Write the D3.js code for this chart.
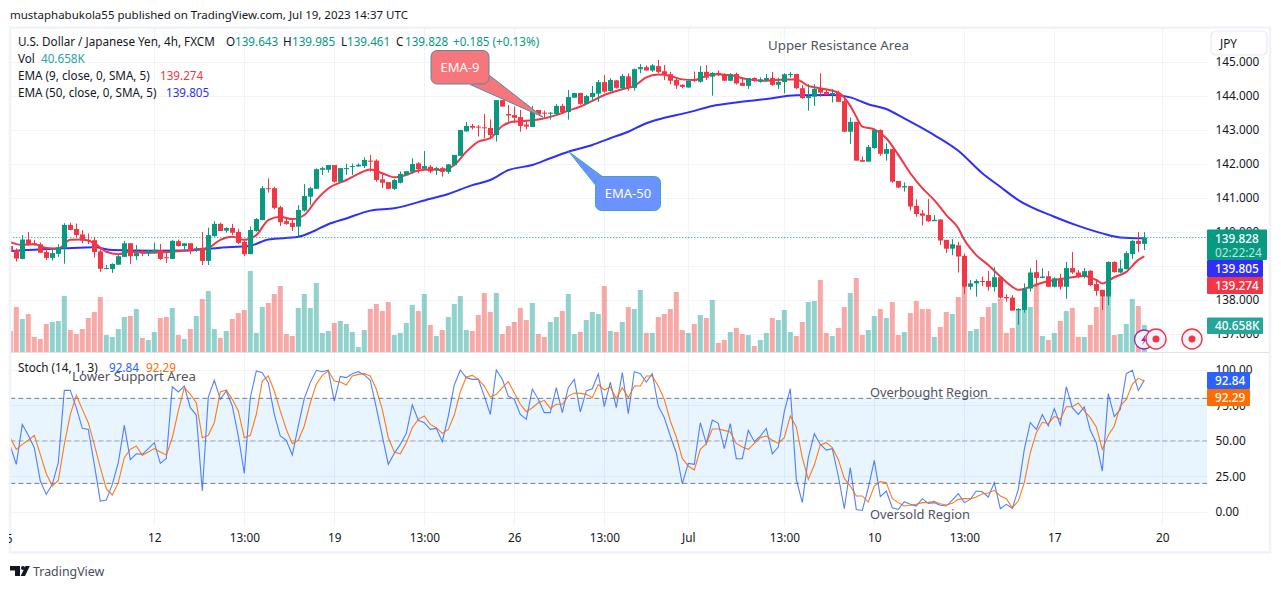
<!DOCTYPE html>
<html>
<head>
<meta charset="utf-8">
<script src="https://cdnjs.cloudflare.com/ajax/libs/d3/7.8.5/d3.min.js"></script>
<style>
  html, body { margin: 0; padding: 0; background: #fff; }
  svg { display: block; }
  text { font-family: "Noto Sans", sans-serif; }
</style>
</head>
<body>
<div id="chart"></div>
<script>
// USD/JPY 4h candles
const opens = [139.58,139.46,139.20,139.77,139.66,139.63,139.40,139.23,139.35,139.51,140.20,140.08,139.92,139.76,139.75,139.42,138.90,138.90,139.03,139.26,139.66,139.28,139.43,139.36,139.40,139.46,139.25,139.20,139.72,139.58,139.66,139.48,139.51,139.14,139.87,140.23,140.03,140.11,139.99,139.70,139.34,140.02,140.34,141.28,141.28,140.72,140.31,140.26,140.15,140.62,141.03,141.26,141.82,141.82,141.96,141.47,141.84,141.90,141.92,141.93,142.09,142.09,141.54,141.46,141.26,141.44,141.66,141.76,142.01,141.85,141.91,141.83,141.87,141.76,141.96,142.23,142.95,143.11,143.09,143.07,143.05,142.84,143.87,143.46,143.43,143.37,143.15,143.08,143.58,143.50,143.47,143.46,143.70,143.52,143.94,144.08,143.76,143.96,144.06,144.40,144.14,144.45,144.22,144.57,144.23,144.78,144.84,144.74,144.87,144.72,144.63,144.46,144.32,144.24,144.46,144.41,144.70,144.56,144.67,144.63,144.44,144.64,144.38,144.29,144.52,144.41,144.45,144.52,144.32,144.40,144.61,144.64,144.22,143.93,143.97,144.20,144.11,144.03,144.08,143.84,142.94,143.23,142.11,142.06,142.46,142.99,142.29,142.43,141.49,141.30,141.34,140.76,140.54,140.49,140.31,140.36,139.76,139.50,139.60,139.29,138.38,138.48,138.55,138.55,138.37,138.66,138.08,138.06,137.69,137.70,138.33,138.81,138.64,138.69,138.38,138.63,138.38,138.93,138.80,138.68,138.85,138.46,138.29,138.09,139.11,138.80,138.90,139.34,139.73,139.643];
const highs = [139.71,139.51,139.90,139.99,139.76,139.68,139.51,139.50,139.63,140.25,140.27,140.24,140.05,139.95,139.85,139.48,139.02,139.07,139.31,139.73,139.66,139.61,139.46,139.46,139.68,139.64,139.44,139.76,139.77,139.66,139.66,139.56,139.99,140.12,140.31,140.27,140.13,140.23,140.09,139.77,140.15,140.40,141.34,141.57,141.32,140.76,140.42,140.36,140.78,141.40,141.32,141.86,141.91,141.96,141.96,141.87,142.00,142.00,142.01,142.19,142.26,142.13,141.72,141.46,141.55,141.77,141.78,142.16,142.05,142.37,141.96,141.91,141.91,141.99,142.26,142.99,143.23,143.17,143.14,143.46,143.30,143.87,143.87,143.73,143.68,143.58,143.29,143.70,143.58,143.56,143.52,143.75,143.76,144.17,144.08,144.08,144.02,144.29,144.46,144.61,144.51,144.46,144.64,144.66,144.80,144.93,144.89,144.93,145.05,144.90,144.70,144.54,144.34,144.44,144.71,144.87,144.90,144.69,144.74,144.66,144.66,144.68,144.51,144.52,144.54,144.54,144.64,144.70,144.53,144.66,144.70,144.64,144.31,144.34,144.34,144.66,144.19,144.19,144.15,143.97,143.36,143.23,142.21,142.55,143.01,143.01,142.60,142.43,141.49,141.45,141.34,140.95,140.64,140.96,140.49,140.36,139.76,139.78,139.70,139.36,138.58,138.60,138.68,138.85,138.95,138.66,138.16,138.13,137.75,138.48,138.92,139.17,138.92,138.84,138.66,138.76,139.11,139.40,138.87,138.93,138.87,138.56,138.29,139.13,139.13,139.17,139.42,139.76,139.99,139.985];
const lows = [139.44,139.12,139.19,139.59,139.59,139.38,139.17,139.15,139.26,139.06,140.05,139.83,139.66,139.64,139.24,138.82,138.90,138.79,139.03,139.25,139.05,139.17,139.28,139.28,139.38,139.17,139.08,139.20,139.56,139.41,139.34,139.41,139.02,139.02,139.85,140.02,139.97,139.90,139.64,139.28,139.34,140.00,140.34,141.15,140.66,140.17,140.20,140.02,139.87,140.59,140.78,141.26,141.67,141.74,141.44,141.44,141.67,141.67,141.91,141.87,141.77,141.47,141.28,141.26,141.23,141.42,141.66,141.70,141.72,141.83,141.72,141.67,141.62,141.70,141.96,142.23,142.94,143.01,142.80,142.75,142.72,142.65,143.68,143.24,143.19,142.94,143.01,143.08,143.44,143.35,143.30,143.43,143.46,143.30,143.94,143.73,143.76,143.84,143.82,144.09,144.12,144.21,144.17,144.15,144.15,144.66,144.74,144.70,144.66,144.46,144.34,144.20,144.22,144.24,144.41,144.38,144.46,144.00,144.58,144.43,144.43,144.33,144.29,144.20,144.41,144.38,144.42,144.29,144.20,144.07,144.53,144.19,143.91,143.56,143.70,143.97,144.01,143.80,143.82,142.94,142.58,142.09,142.06,142.06,142.44,142.23,142.09,141.44,141.28,141.18,140.62,140.44,140.18,140.29,140.31,139.61,139.38,139.31,138.80,138.17,138.29,138.09,138.40,138.27,138.24,138.03,137.94,137.68,137.26,137.62,138.24,138.38,138.63,138.38,138.36,138.29,138.03,138.76,138.63,138.63,138.40,138.12,137.70,137.84,138.80,138.78,138.89,139.20,139.40,139.461];
const closes = [139.44,139.21,139.77,139.63,139.61,139.38,139.23,139.37,139.54,140.20,140.05,139.90,139.74,139.73,139.40,138.91,138.93,139.05,139.28,139.66,139.28,139.37,139.36,139.44,139.47,139.20,139.22,139.73,139.58,139.66,139.49,139.51,139.14,139.90,140.23,140.02,140.11,139.97,139.67,139.34,140.05,140.37,141.28,141.27,140.70,140.28,140.23,140.14,140.64,141.05,141.28,141.84,141.87,141.96,141.47,141.87,141.87,141.93,141.97,142.11,142.06,141.52,141.44,141.26,141.52,141.70,141.78,141.99,141.84,141.93,141.77,141.87,141.76,141.98,142.26,142.99,143.11,143.06,143.06,143.04,142.84,143.87,143.68,143.42,143.35,143.11,143.09,143.58,143.46,143.48,143.50,143.70,143.52,143.96,144.08,143.76,143.99,144.08,144.40,144.12,144.46,144.23,144.58,144.23,144.78,144.84,144.74,144.89,144.70,144.61,144.44,144.30,144.26,144.44,144.43,144.70,144.53,144.67,144.61,144.44,144.64,144.36,144.29,144.52,144.44,144.48,144.52,144.32,144.41,144.63,144.64,144.22,143.93,143.99,144.20,144.09,144.03,144.08,143.82,142.94,143.23,142.09,142.06,142.49,142.99,142.29,142.43,141.47,141.30,141.34,140.74,140.52,140.47,140.31,140.35,139.74,139.50,139.63,139.27,138.38,138.48,138.55,138.53,138.38,138.66,138.06,138.04,137.68,137.73,138.33,138.80,138.64,138.68,138.38,138.63,138.38,138.93,138.80,138.68,138.84,138.43,138.26,138.09,139.11,138.81,138.92,139.37,139.73,139.64,139.828];
const volumes = [31.6,67.8,49.7,57.2,22.6,19.6,42.2,45.2,46.7,84.3,33.1,27.1,34.6,51.2,60.2,82.8,25.6,22.6,34.6,52.7,54.2,64.8,21.1,18.1,30.1,51.2,52.7,66.3,25.6,19.6,34.6,54.2,79.8,91.9,34.6,21.1,31.6,49.7,58.7,63.3,122,28.6,67.8,73.8,87.3,99.4,27.1,24.1,66.3,87.3,66.3,103.9,28.6,31.6,43.7,46.7,42.2,30.1,7.5,33.1,64.8,72.3,61.7,75.3,25.6,28.6,43.7,70.8,61.7,87.3,40.7,24.1,33.1,52.7,72.3,84.3,33.1,31.6,55.7,88.9,60.2,88.9,27.1,39.2,45.2,66.3,48.2,73.8,27.1,22.6,45.2,52.7,61.7,87.3,27.1,30.1,48.2,60.2,57.2,99.4,31.6,30.1,45.2,67.8,64.8,93.4,28.6,28.6,52.7,57.2,64.8,90.4,33.1,28.6,42.2,55.7,51.2,78.3,13.6,18.1,30.1,36.1,27.1,25.6,9,18.1,28.6,51.2,48.2,63.3,30.1,24.1,45.2,75.3,76.8,108.4,28.6,24.1,36.1,67.8,88.9,111.4,25.6,33.1,54.2,64.8,51.2,75.3,25.6,30.1,58.7,76.8,64.8,64.8,22.6,37.7,60.2,57.2,82.8,98.4,31.6,34.6,52.7,67.8,73.8,79.8,28.6,36.1,63.3,65.8,67.8,103.4,24.1,18.1,28.6,46.7,61.7,66.3,22.6,22.6,40.7,67.8,82.3,83.3,25.6,27.1,42.2,79.8,69.3,40.658];

// moving averages, read at bar numbers
const ema9Bars = [0,2,4,6,8,10,12,14,16,18,20,23,27,31,33,35,37,39,41,43,45,47,49,51,53,56,58,60,62,64,66,68,70,72,74,76,78,80,82,84,86,88,91,93,95,97,99,102,104,106,108,110,112,114,117,120,123,126,129,131,133,135,138,140,141,142,144,146,148,150,152,154,156,158,159,161,163,165,167,168,170,172,174,176,179,181,182,184,186,188,189];
const ema9Values = [139.69,139.61,139.63,139.52,139.50,139.76,139.77,139.66,139.41,139.34,139.41,139.38,139.41,139.48,139.53,139.76,139.85,139.76,139.90,140.34,140.44,140.37,140.49,140.93,141.27,141.52,141.70,141.83,141.72,141.60,141.67,141.80,141.83,141.81,141.96,142.35,142.65,142.75,143.11,143.24,143.26,143.30,143.43,143.56,143.68,143.85,144.02,144.19,144.29,144.54,144.62,144.58,144.48,144.46,144.63,144.60,144.48,144.44,144.48,144.48,144.29,144.22,144.09,143.70,143.38,143.09,143.01,142.75,142.26,141.72,141.28,140.93,140.49,140.10,139.76,139.31,139.02,138.68,138.38,138.29,138.38,138.50,138.58,138.63,138.70,138.58,138.48,138.66,138.82,139.17,139.274];
const ema50Bars = [0,9,14,17,24,30,35,40,43,48,50,53,56,60,64,70,73,77,80,83,87,90,93,97,100,103,106,109,113,117,121,126,131,137,140,143,146,149,154,158,162,165,168,174,178,182,185,189];
const ema50Values = [139.43,139.51,139.54,139.46,139.44,139.45,139.53,139.59,139.77,139.85,139.97,140.22,140.39,140.62,140.69,140.97,141.11,141.37,141.52,141.81,141.96,142.16,142.35,142.55,142.75,142.94,143.19,143.35,143.51,143.70,143.80,143.90,144.01,144.02,143.95,143.75,143.61,143.33,142.84,142.38,141.72,141.32,140.93,140.44,140.17,139.95,139.83,139.805];

// stochastic
const stochK = [46.4,33.4,61.6,53.9,45.2,21.6,12.2,19.3,34.6,85.6,85.6,73.4,58.8,58.1,33.4,7.5,8.2,19.3,34.6,60.9,36.7,40.9,40.5,44.5,48.7,34.1,37.6,88.2,84.5,88.7,73.4,68.2,14.6,80.9,92.7,79.3,85.2,74.6,53.4,27.1,80.5,99.3,98.1,91.1,68.7,53.4,50.4,40,60.5,80,91.1,99.8,98.8,99.8,78.1,95.5,94.6,97.4,98.8,96.5,92.7,73.4,53.4,33.4,41.2,47.5,55.3,75.3,64.5,62.8,58.1,58.8,49.4,67.5,89.4,100,94.6,93.4,93.4,81.6,68.7,100,93.4,81.6,79.3,68.7,65.2,86.4,79.3,69.9,69.9,87.5,69.9,87.5,93.4,70.4,85.2,86.8,97.4,74.1,91.5,73.4,98.1,69.2,98.8,97.4,91.5,97.4,74.6,66.4,53.4,41.6,19.8,34.1,33.4,62.8,48,64.7,62.4,44.5,62.1,37.4,37.4,57.4,49.4,53.4,58.8,40.9,45.6,70.6,86.8,22.8,6.4,38.1,55.1,47.5,43.5,44.5,25.2,2.1,31.1,1.6,0.9,16.9,36.2,10.6,14.6,2.8,1.6,7.1,5.2,4,9.2,5.9,6.4,4.5,4,8.2,12.7,6.4,8.7,14.6,14.1,10.4,20.5,2.1,5.2,2.4,15.8,44,62.8,58.1,68.5,60.5,72.7,61.2,88.2,73.4,68.7,73.9,57.4,48.7,28.7,83.3,67.1,72.2,97.4,99.8,85.6,92.84];
const stochD = [52.2,44,47.5,50.4,53.9,40.5,26.8,18.1,22.1,47.5,68.7,82.1,72.2,62.8,47.5,31.1,16.2,11.8,20.5,38.1,44,46.4,39.8,42.1,44.5,42.1,40,52.2,71.1,87.5,82.8,76.9,52.2,53.9,62.8,84.5,85.9,79.3,71.1,52.2,53.9,68.7,92.2,95.8,85.2,71.1,58.1,48,50.4,60.5,76.9,89.9,96.2,99.3,92.2,91.5,89.4,95.8,96.9,97.4,95.8,86.4,72.2,52.2,42.1,40.9,48.7,59.3,65.2,67.5,61.6,59.3,55.3,58.1,68.2,84.7,95.1,96.2,93.4,88.7,80.9,82.8,87.5,91.8,84,75.8,70.6,73.4,76.9,78.6,72.9,75.8,75.8,81.6,83.8,83.5,82.8,80.5,89.9,85.9,88,79.8,87.5,80.5,88.7,88.7,95.8,95.8,88.7,79.3,64,52.7,37.6,32.2,29.4,44,48,58.4,58.4,57.4,56.2,48.2,45.6,44,48.2,52.2,53.4,50.4,48.2,52.2,67.5,59.8,38.1,22.8,32.9,47.1,48.7,45.2,36.9,23.5,18.1,11.1,11.1,6.8,18.1,21.2,20.5,9.2,6.4,4,4.5,5.2,6.4,6.6,7.3,5.6,4.7,5.9,8.7,9.2,9.2,10.4,12.7,13.2,15.1,11.1,9.2,2.8,7.5,20.5,41.6,55.8,63.1,62.1,67.3,65.2,74.1,74.1,76.7,71.1,66.4,59.8,44,53.9,60.5,74.6,79.3,89.9,94.1,92.29];

// axis ticks
const priceTicks = [145,144,143,142,141,140,139,138,137];
const stochTicks = [100,75,50,25,0];
const stochLevels = [80,50,20];
const timeBars = [24,39,54,69,84,99,113,129,144,159,174,192];
const timeLabels = ["12","13:00","19","13:00","26","13:00","Jul","13:00","10","13:00","17","20"];

const green = "#089981", red = "#f23645", blue = "#2e2eff";
const stochBlue = "#2962ff", stochOrange = "#ff6d00";
const grid = "#f0f3fa", ink = "#131722";

const width = 1281, height = 589;
const paneLeft = 10.3, paneRight = 1207, mainBottom = 352, stochBottom = 526;

const svg = d3.select("#chart").append("svg")
  .attr("width", width).attr("height", height);

// bar number -> pixel, 6px a bar
const x = d3.scaleLinear().domain([0, 199.45]).range([paneLeft, paneRight]);
const y = d3.scaleLinear().domain([138, 144]).range([299.7, 95.7]);
const yVol = d3.scaleLinear().domain([0, 150]).range([mainBottom, mainBottom - 99.6]);
const yStoch = d3.scaleLinear().domain([0, 100]).range([511.7, 370]);

svg.append("defs").append("clipPath").attr("id", "pane")
  .append("rect").attr("x", 11).attr("y", 28).attr("width", paneRight - 11).attr("height", stochBottom - 28);
svg.append("defs").append("clipPath").attr("id", "timeclip")
  .append("rect").attr("x", 9).attr("y", 526).attr("width", 1250).attr("height", 26);

// header line
svg.append("text").attr("x", 10).attr("y", 19).attr("font-size", 11.5).attr("fill", "#131722")
  .text("mustaphabukola55 published on TradingView.com, Jul 19, 2023 14:37 UTC");

// grid
const gridG = svg.append("g").attr("stroke", grid).attr("stroke-width", 1);
gridG.selectAll("line.p").data(priceTicks.concat([146])).enter().append("line")
  .attr("x1", paneLeft).attr("x2", paneRight)
  .attr("y1", d => Math.round(y(d)) + 0.5).attr("y2", d => Math.round(y(d)) + 0.5);
gridG.selectAll("line.s").data(stochTicks).enter().append("line")
  .attr("x1", paneLeft).attr("x2", paneRight)
  .attr("y1", d => Math.round(yStoch(d)) + 0.5).attr("y2", d => Math.round(yStoch(d)) + 0.5);
gridG.selectAll("line.t").data(timeBars).enter().append("line")
  .attr("x1", d => Math.round(x(d)) + 0.5).attr("x2", d => Math.round(x(d)) + 0.5)
  .attr("y1", 28).attr("y2", stochBottom);

// stochastic band
svg.append("rect").attr("x", paneLeft).attr("width", paneRight - paneLeft)
  .attr("y", yStoch(80)).attr("height", yStoch(20) - yStoch(80))
  .attr("fill", "#2196f3").attr("fill-opacity", 0.1);

const pane = svg.append("g").attr("clip-path", "url(#pane)");

// volume
const bars = d3.range(opens.length);
pane.append("g").selectAll("rect").data(bars).enter().append("rect")
  .attr("x", i => x(i) - 2.5).attr("width", 5)
  .attr("y", i => yVol(volumes[i])).attr("height", i => mainBottom - yVol(volumes[i]))
  .attr("fill", i => closes[i] >= opens[i] ? "#26a69a" : "#ef5350")
  .attr("fill-opacity", 0.5);

// emas go under the candles
const ema50Line = d3.line().x(d => x(d[0])).y(d => y(d[1])).curve(d3.curveMonotoneX);
pane.append("path").datum(d3.zip(ema50Bars, ema50Values)).attr("d", ema50Line)
  .attr("fill", "none").attr("stroke", blue).attr("stroke-width", 2);
pane.append("path").datum(d3.zip(ema9Bars, ema9Values)).attr("d", ema50Line)
  .attr("fill", "none").attr("stroke", red).attr("stroke-width", 2);

// last price line
pane.append("line").attr("x1", paneLeft).attr("x2", paneRight)
  .attr("y1", y(closes[189])).attr("y2", y(closes[189]))
  .attr("stroke", green).attr("stroke-width", 1).attr("stroke-dasharray", "1,2");

// candles
const candles = pane.append("g").selectAll("g").data(bars).enter().append("g")
  .attr("fill", i => closes[i] >= opens[i] ? green : red)
  .attr("stroke", i => closes[i] >= opens[i] ? green : red);
candles.append("line")
  .attr("x1", i => Math.round(x(i)) + 0.5).attr("x2", i => Math.round(x(i)) + 0.5)
  .attr("y1", i => y(highs[i])).attr("y2", i => y(lows[i]));
candles.append("rect")
  .attr("stroke", "none")
  .attr("x", i => Math.round(x(i)) - 2).attr("width", 5)
  .attr("y", i => y(Math.max(opens[i], closes[i])))
  .attr("height", i => Math.max(1, Math.abs(y(opens[i]) - y(closes[i]))));

// stochastic lines
const stochLine = d3.line().x((d, i) => x(i)).y(d => yStoch(d));
stochLevels.forEach(function (lv) {
  pane.append("line").attr("x1", paneLeft).attr("x2", paneRight)
    .attr("y1", yStoch(lv)).attr("y2", yStoch(lv))
    .attr("stroke", "#787b86").attr("stroke-opacity", lv === 50 ? 0.6 : 1)
    .attr("stroke-dasharray", "5,3");
});
pane.append("path").datum(stochK).attr("d", stochLine)
  .attr("fill", "none").attr("stroke", stochBlue).attr("stroke-opacity", 0.8).attr("stroke-width", 1.1);
pane.append("path").datum(stochD).attr("d", stochLine)
  .attr("fill", "none").attr("stroke", stochOrange).attr("stroke-opacity", 0.9).attr("stroke-width", 1.1);

// pane separator and frame
svg.append("line").attr("x1", 10).attr("x2", 1270).attr("y1", 352.5).attr("y2", 352.5)
  .attr("stroke", "#e0e3eb");
svg.append("rect").attr("x", 10).attr("y", 27.5).attr("width", 1260).attr("height", 525)
  .attr("fill", "none").attr("stroke", "#f0f3fa").attr("stroke-width", 2.5);

// axes
const axisFont = 11.8;
const priceAxis = d3.axisRight(y).tickValues(priceTicks).tickSize(0).tickPadding(8.5)
  .tickFormat(d => d.toFixed(3));
const pa = svg.append("g").attr("transform", `translate(${paneRight},0)`).call(priceAxis);
pa.select(".domain").remove();
const stochAxis = d3.axisRight(yStoch).tickValues(stochTicks).tickSize(0).tickPadding(8.5)
  .tickFormat(d => d.toFixed(2));
const sa = svg.append("g").attr("transform", `translate(${paneRight},0)`).call(stochAxis);
sa.select(".domain").remove();
const timeAxis = d3.axisBottom(x).tickValues(timeBars).tickSize(0).tickPadding(8)
  .tickFormat((d, i) => timeLabels[i]);
const ta = svg.append("g").attr("transform", `translate(0,526)`).call(timeAxis);
ta.select(".domain").remove();
[pa, sa, ta].forEach(g => g.selectAll("text")
  .attr("font-family", "Noto Sans, sans-serif").attr("font-size", axisFont).attr("fill", ink));
svg.append("g").attr("clip-path", "url(#timeclip)").append("text")
  .attr("x", 9.2).attr("y", 543).attr("text-anchor", "middle").attr("font-size", axisFont).attr("fill", ink).text("5");

// legend rows
function legend(px, py, parts) {
  const t = svg.append("text").attr("x", px).attr("y", py).attr("font-size", 11.7).attr("fill", ink).attr("xml:space", "preserve");
  parts.forEach(p => t.append("tspan").attr("x", p[2]).attr("fill", p[1] || ink).text(p[0]));
}
legend(18, 46, [["U.S. Dollar / Japanese Yen, 4h, FXCM", ink, 18],
  ["O", ink, 226], ["139.643", green, 235], ["H", ink, 283], ["139.985", green, 292],
  ["L", ink, 341], ["139.461", green, 347], ["C", ink, 396], ["139.828", green, 405],
  ["+0.185 (+0.13%)", green, 453]]);
legend(18, 63, [["Vol", ink, 18], ["40.658K", "#26a69a", 41]]);
legend(18, 80, [["EMA (9, close, 0, SMA, 5)", ink, 18], ["139.274", red, 160]]);
legend(18, 97, [["EMA (50, close, 0, SMA, 5)", ink, 18], ["139.805", blue, 166]]);
legend(18, 372, [["Stoch (14, 1, 3)", ink, 18], ["92.84", stochBlue, 109], ["92.29", stochOrange, 146]]);

// free text drawn on the chart
const notes = [["Upper Resistance Area", 768, 50, 141], ["Lower Support Area", 72, 381, 124], ["Overbought Region", 870, 397, 118], ["Oversold Region", 870, 519, 100]];
svg.selectAll("text.note").data(notes).enter().append("text").attr("class", "note")
  .attr("x", d => d[1]).attr("y", d => d[2]).attr("font-size", 13).attr("fill", "#50535e")
  .attr("textLength", d => d[3]).attr("lengthAdjust", "spacingAndGlyphs").text(d => d[0]);

// callouts, tip sits on the line it names
function callout(label, bx, by, bw, bh, tipBar, tipPrice, baseA, baseB, fill, stroke) {
  const r = 6, tx = x(tipBar), ty = y(tipPrice);
  svg.append("path").attr("d", `M${baseA[0]},${baseA[1]}L${tx},${ty}L${baseB[0]},${baseB[1]}`)
    .attr("fill", fill).attr("stroke", stroke).attr("stroke-width", 1);
  svg.append("rect").attr("x", bx).attr("y", by).attr("width", bw).attr("height", bh).attr("rx", r)
    .attr("fill", fill).attr("stroke", stroke).attr("stroke-width", 1);
  svg.append("path").attr("d", `M${baseA[0]},${baseA[1]}L${baseB[0]},${baseB[1]}`)
    .attr("stroke", fill).attr("stroke-width", 2);
  svg.append("text").attr("x", bx + bw / 2).attr("y", by + bh / 2 + 4.5).attr("text-anchor", "middle")
    .attr("font-size", 13).attr("fill", "#fff").text(label);
}
callout("EMA-9", 431, 50.5, 58, 33.5, 88.8, 143.37, [469, 84], [489, 75], "#f7767c", "#4a8fa6");
callout("EMA-50", 595.5, 176.5, 65, 34, 93.1, 142.35, [603, 177], [595.5, 185], "#6a93ff", "#3fa2c8");

// right side price tags
function tag(ty, th, tw, fill, label, second) {
  svg.append("rect").attr("x", paneRight).attr("y", ty).attr("width", tw).attr("height", th).attr("fill", fill).attr("rx", 1);
  svg.append("text").attr("x", 1215).attr("y", ty + (second ? 13 : th / 2 + 4.5)).attr("font-size", axisFont)
    .attr("font-weight", 500).attr("fill", "#fff").text(label);
  if (second) svg.append("text").attr("x", 1215).attr("y", ty + 27).attr("font-size", axisFont)
    .attr("fill", "#fff").attr("fill-opacity", 0.75).text(second);
}
tag(229.5, 30.5, 60, green, closes[189].toFixed(3), "02:22:24");
tag(260, 17, 56, blue, ema50Values[ema50Values.length - 1].toFixed(3));
tag(277, 17, 56, red, ema9Values[ema9Values.length - 1].toFixed(3));
tag(317.5, 16.5, 56, "#26a69a", volumes[189].toFixed(3) + "K");
tag(372, 17, 43, stochBlue, stochK[189].toFixed(2));
tag(389, 17, 43, stochOrange, stochD[189].toFixed(2));

// currency button
svg.append("rect").attr("x", 1211).attr("y", 31).attr("width", 56).attr("height", 24).attr("rx", 5)
  .attr("fill", "#fff").attr("stroke", "#e8eaf3").attr("stroke-width", 1.2);
svg.append("text").attr("x", 1220).attr("y", 47.5).attr("font-size", axisFont).attr("fill", ink).text("JPY");

// event markers
svg.append("circle").attr("cx", 1144).attr("cy", 339.5).attr("r", 9.5)
  .attr("fill", "#f0f3fa").attr("stroke", "#9c27b0").attr("stroke-width", 1.3);
svg.append("path").attr("d", "M1146,334L1141,341L1144,341L1142,345L1147,339L1144.5,339Z").attr("fill", "#9c27b0");
[1156, 1192].forEach(function (cx) {
  svg.append("circle").attr("cx", cx).attr("cy", 339).attr("r", 10)
    .attr("fill", "#f0f3fa").attr("stroke", red).attr("stroke-width", 1.4);
  svg.append("circle").attr("cx", cx).attr("cy", 339).attr("r", 3.5).attr("fill", red);
});

// footer logo
const logo = svg.append("g").attr("fill", "#131722");
logo.append("path").attr("d", "M10,566H20V576H15V570.5H10Z");
logo.append("circle").attr("cx", 23).attr("cy", 568).attr("r", 2);
logo.append("path").attr("d", "M25.5,566H29.8L25,576H20.7Z");
svg.append("text").attr("x", 33).attr("y", 576).attr("font-size", 12.4).attr("fill", "#4a4d57").text("TradingView");
</script>
</body>
</html>
